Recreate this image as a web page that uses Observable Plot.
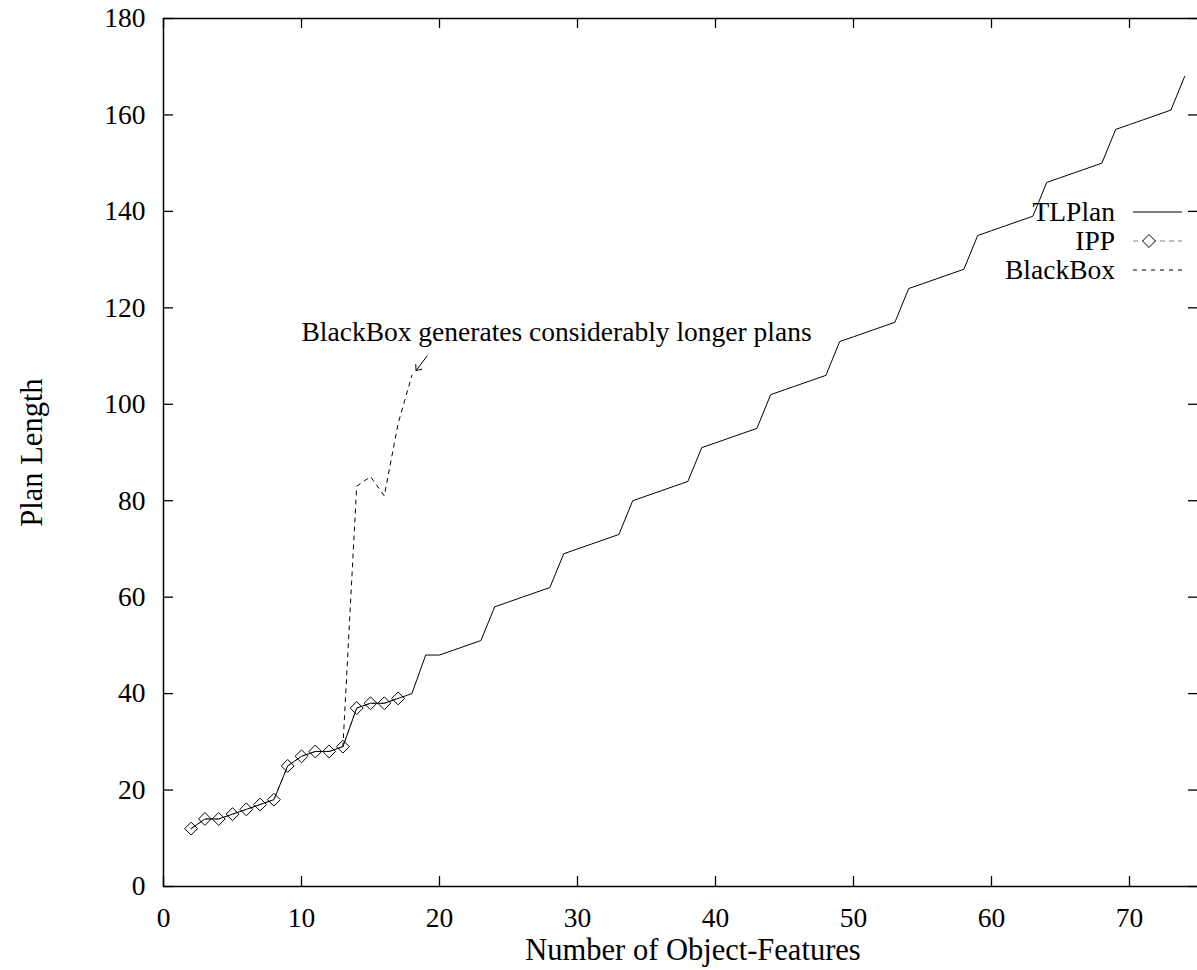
<!DOCTYPE html>
<html><head><meta charset="utf-8">
<script src="https://cdn.jsdelivr.net/npm/d3@7"></script>
<script src="https://cdn.jsdelivr.net/npm/@observablehq/plot@0.6"></script>
<style>html,body{margin:0;padding:0;background:#fff;overflow:hidden}</style>
</head><body><div id="chart"></div>
<script>
// ---- data ----
const xTicks = [0, 10, 20, 30, 40, 50, 60, 70];
const yTicks = [0, 20, 40, 60, 80, 100, 120, 140, 160, 180];

const tlplanX = [2,3,4,5,6,7,8,9,10,11,12,13,14,15,16,17,18,19,20,21,22,23,24,25,26,27,28,29,30,31,32,33,34,35,36,37,38,39,40,41,42,43,44,45,46,47,48,49,50,51,52,53,54,55,56,57,58,59,60,61,62,63,64,65,66,67,68,69,70,71,72,73,74];
const tlplanY = [12,14,14,15,16,17,18,25,27,28,28,29,37,38,38,39,40,48,48,49,50,51,58,59,60,61,62,69,70,71,72,73,80,81,82,83,84,91,92,93,94,95,102,103,104,105,106,113,114,115,116,117,124,125,126,127,128,135,136,137,138,139,146,147,148,149,150,157,158,159,160,161,168];

const ippX = [2,3,4,5,6,7,8,9,10,11,12,13,14,15,16,17];
const ippY = [12,14,14,15,16,17,18,25,27,28,28,29,37,38,38,39];

const blackboxX = [13,14,15,16,17,18];
const blackboxY = [29,83,85,81,96,106];

const seriesNames = ["TLPlan", "IPP", "BlackBox"];
const xLabel = "Number of Object-Features";
const yLabel = "Plan Length";
const noteText = "BlackBox generates considerably longer plans";
const noteX = 10, noteY = 115;
const arrowFromX = 19.1, arrowFromY = 110, arrowToX = 18.3, arrowToY = 107;

(function () {
// ---- tables ----
const tl = tlplanX.map((x, i) => ({x, y: tlplanY[i]}));
const ipp = ippX.map((x, i) => ({x, y: ippY[i]}));
const bb = blackboxX.map((x, i) => ({x, y: blackboxY[i]}));

const W = 1197, H = 970;
const mL = 163, mR = -1, mT = 18, mB = 84;
const fw = W - mL - mR, fh = H - mT - mB;
const tick = 10;
const fs = 27.5, fsTitle = 30.5;
const font = "'Liberation Serif', 'Times New Roman', serif";

const chart = Plot.plot({
  width: W, height: H,
  marginLeft: mL, marginRight: mR, marginTop: mT, marginBottom: mB,
  style: {fontFamily: font, fontSize: fs + "px", background: "white", color: "black", overflow: "visible"},
  x: {domain: [0, 75], ticks: xTicks, tickSize: 0, tickPadding: 21, label: null},
  y: {domain: [0, 180], ticks: yTicks, tickSize: 0, tickPadding: 18, label: null},
  marks: [
    Plot.line(ipp, {x: "x", y: "y", stroke: "#808080", strokeWidth: 1, strokeDasharray: "5,4"}),
    Plot.line(tl, {x: "x", y: "y", stroke: "black", strokeWidth: 1}),
    Plot.dot(ipp, {x: "x", y: "y", symbol: "diamond2", r: 5.8, stroke: "black", fill: "none", strokeWidth: 1}),
    Plot.line(bb, {x: "x", y: "y", stroke: "black", strokeWidth: 1, strokeDasharray: "4,5"}),
    Plot.text([noteText], {x: () => noteX, y: () => noteY, text: d => d, textAnchor: "start", lineAnchor: "middle", fontSize: fs}),
    Plot.arrow([0], {x1: () => arrowFromX, y1: () => arrowFromY, x2: () => arrowToX, y2: () => arrowToY, headLength: 12, headAngle: 80, stroke: "black", strokeWidth: 1}),
    // inward ticks on all four sides
    Plot.ruleX(xTicks, {x: d => d, insetTop: fh - tick, stroke: "black", strokeWidth: 1.3}),
    Plot.ruleX(xTicks, {x: d => d, insetBottom: fh - tick, stroke: "black", strokeWidth: 1.3}),
    Plot.ruleY(yTicks, {y: d => d, insetRight: fw - tick, stroke: "black", strokeWidth: 1.3}),
    Plot.ruleY(yTicks, {y: d => d, insetLeft: fw - tick, stroke: "black", strokeWidth: 1.3}),
    Plot.frame({stroke: "black", strokeWidth: 1.5}),
    Plot.text([xLabel], {text: d => d, frameAnchor: "bottom", textAnchor: "middle", lineAnchor: "middle", dy: 64, dx: 12, fontSize: fsTitle}),
    Plot.text([yLabel], {text: d => d, frameAnchor: "left", textAnchor: "middle", lineAnchor: "middle", dx: -131, rotate: -90, fontSize: fsTitle})
  ]
});
document.getElementById("chart").appendChild(chart);

// ---- legend (key) in the upper right of the frame ----
const xr = chart.scale("x").range, yr = chart.scale("y").range;
const frameRight = Math.max(...xr), frameTop = Math.min(...yr);
const g = d3.select(chart).append("g").attr("class", "legend");
const styles = [
  {dash: null, color: "black", marker: false},
  {dash: "5,4", color: "#808080", marker: true},
  {dash: "4,5", color: "black", marker: false}
];
seriesNames.forEach((name, i) => {
  const cy = frameTop + 194 + i * 29;
  g.append("text").attr("x", frameRight - 83).attr("y", cy).attr("dy", "0.32em")
    .attr("text-anchor", "end").attr("font-family", font).attr("font-size", fs).attr("fill", "black").text(name);
  g.append("line").attr("x1", frameRight - 65).attr("x2", frameRight - 16).attr("y1", cy).attr("y2", cy)
    .attr("stroke", styles[i].color).attr("stroke-width", 1)
    .attr("stroke-dasharray", styles[i].dash);
  if (styles[i].marker) {
    g.append("path").attr("d", d3.symbol(d3.symbolDiamond2, Math.PI * 5.8 * 5.8)())
      .attr("transform", `translate(${frameRight - 49},${cy})`)
      .attr("fill", "white").attr("stroke", "black").attr("stroke-width", 1);
  }
});
})();
</script>
</body></html>
